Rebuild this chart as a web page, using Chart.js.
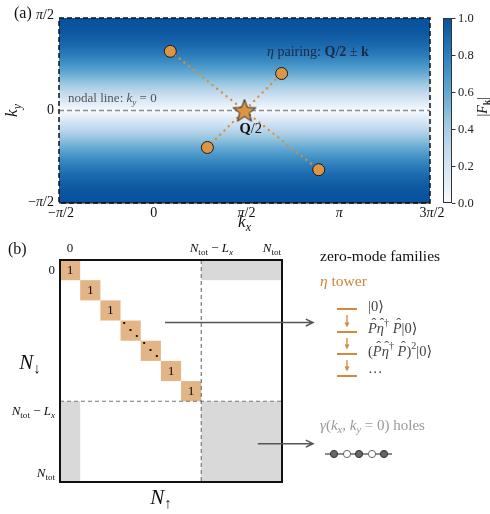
<!DOCTYPE html>
<html>
<head>
<meta charset="utf-8">
<script src="https://cdn.jsdelivr.net/npm/chart.js@4.4.0/dist/chart.umd.min.js"></script>
<style>
body{margin:0;background:#fff}
#wrap{position:relative;width:490px;height:514px}
canvas{position:absolute}
</style>
</head>
<body>
<div id="wrap">
<canvas id="mapa" width="490" height="232" style="left:0;top:0"></canvas>
<canvas id="barra" width="60" height="232" style="left:430px;top:0"></canvas>
<canvas id="matriz" width="490" height="282" style="left:0;top:232px"></canvas>
</div>
<script>
// painel (a): eixos em unidades de pi
const kxTicks = [-0.5, 0, 0.5, 1, 1.5];
const kxRotulos = ['−π/2', '0', 'π/2', 'π', '3π/2'];
const kyTicks = [-0.5, 0, 0.5];
const kyRotulos = ['−π/2', '0', 'π/2'];

// |F_k| lido por linha de ky
const kyLinhas = [-0.5,-0.45,-0.4,-0.35,-0.3,-0.25,-0.2,-0.15,-0.1,-0.05,0,0.05,0.1,0.15,0.2,0.25,0.3,0.35,0.4,0.45,0.5];
const fLinhas = [1.0,0.99,0.95,0.89,0.81,0.71,0.59,0.45,0.31,0.16,0.0,0.16,0.31,0.45,0.59,0.71,0.81,0.89,0.95,0.99,1.0];

// pares eta: Q/2 +- k
const pontosKx = [0.1, 0.9, 0.3, 0.7];
const pontosKy = [0.32, -0.32, -0.2, 0.2];
const centroKx = [0.5];
const centroKy = [0];

const barraTicks = [0, 0.2, 0.4, 0.6, 0.8, 1.0];

// painel (b): matriz em unidades de celula
const nTot = 11;
const nCorte = 7;   // N_tot - L_x
const diagCelulas = [0, 1, 2, 3, 4, 5, 6];
const diagTextos = ['1', '1', '1', '⋱', '⋱', '1', '1'];
const blocosCinza = [[7, 11, 0, 1], [0, 1, 7, 11], [7, 11, 7, 11]];
const matrizTicks = [0.5, 7.5, 10.5];

const SERIF = "'Liberation Serif','DejaVu Serif',serif";
const LARANJA = '#dc9445';

function fonte(tam, est) {
  return (est.includes('i') ? 'italic ' : '') + (est.includes('b') ? 'bold ' : '') + tam + 'px ' + SERIF;
}

// texto com partes: [texto, 'i b sub sup hat']
function texto(ctx, partes, x, y, tam, alinhar, cor) {
  ctx.save();
  ctx.fillStyle = cor || '#111';
  ctx.textBaseline = 'middle';
  ctx.textAlign = 'left';
  const itens = partes.map(p => {
    const est = (p[1] || '').split(' ');
    const sub = est.includes('sub'), sup = est.includes('sup');
    const t = (sub || sup) ? tam * 0.7 : tam;
    ctx.font = fonte(t, est);
    return {s: p[0], est, t, w: ctx.measureText(p[0]).width, dy: sub ? tam * 0.3 : sup ? -tam * 0.38 : 0};
  });
  const total = itens.reduce((a, b) => a + b.w, 0);
  let cx = alinhar === 'center' ? x - total / 2 : alinhar === 'right' ? x - total : x;
  itens.forEach(it => {
    ctx.font = fonte(it.t, it.est);
    ctx.fillText(it.s, cx, y + it.dy);
    if (it.est.includes('hat')) {
      ctx.font = fonte(it.t, []);
      const hw = ctx.measureText('ˆ').width;
      ctx.fillText('ˆ', cx + it.w / 2 - hw / 2 + it.t * 0.1, y + it.dy - it.t * 0.3);
    }
    cx += it.w;
  });
  ctx.restore();
}

function seta(ctx, x0, y0, x1, y1, cor, lw, ponta) {
  ctx.save();
  ctx.strokeStyle = cor;
  ctx.lineWidth = lw;
  ctx.beginPath();
  ctx.moveTo(x0, y0);
  ctx.lineTo(x1, y1);
  const a = Math.atan2(y1 - y0, x1 - x0);
  ctx.moveTo(x1 - ponta * Math.cos(a - 0.45), y1 - ponta * Math.sin(a - 0.45));
  ctx.lineTo(x1, y1);
  ctx.lineTo(x1 - ponta * Math.cos(a + 0.45), y1 - ponta * Math.sin(a + 0.45));
  ctx.stroke();
  ctx.restore();
}

const azuis = ['#f7fbff','#deebf7','#c6dbef','#9ecae1','#6baed6','#4292c6','#2171b5','#08519c','#08306b'];
function hex(h) { return [1, 3, 5].map(i => parseInt(h.substr(i, 2), 16)); }
function corAzul(v) {
  const t = Math.min(Math.max(v, 0), 1) * 0.875 * 8;
  const i = Math.min(Math.floor(t), 7), f = t - i;
  const a = hex(azuis[i]), b = hex(azuis[i + 1]);
  const c = a.map((q, k) => Math.round(q + (b[k] - q) * f));
  return 'rgb(' + c.join(',') + ')';
}

// estrela para Q/2
const estrela = document.createElement('canvas');
estrela.width = 28; estrela.height = 28;
const sc = estrela.getContext('2d');
sc.beginPath();
for (let k = 0; k < 10; k++) {
  const r = k % 2 ? 5 : 12;
  const a = -Math.PI / 2 + k * Math.PI / 5;
  sc.lineTo(14 + r * Math.cos(a), 15 + r * Math.sin(a));
}
sc.closePath();
sc.fillStyle = LARANJA; sc.fill();
sc.strokeStyle = '#222'; sc.lineWidth = 1; sc.stroke();

function partesPi(s) {
  if (!s.includes('π')) return [[s, '']];
  const [a, b] = s.split('π');
  return [[a, ''], ['π', 'i'], [b, '']];
}

const pluginMapa = {
  id: 'mapa',
  beforeDatasetsDraw(chart) {
    const {ctx, chartArea: ca, scales: {y}} = chart;
    const g = ctx.createLinearGradient(0, ca.top, 0, ca.bottom);
    kyLinhas.forEach((ky, i) => {
      const p = (y.getPixelForValue(ky) - ca.top) / (ca.bottom - ca.top);
      g.addColorStop(Math.min(Math.max(p, 0), 1), corAzul(fLinhas[i]));
    });
    ctx.save();
    ctx.fillStyle = g;
    ctx.fillRect(ca.left, ca.top, ca.width, ca.height);
    ctx.restore();
  },
  afterDatasetsDraw(chart) {
    const {ctx, chartArea: ca} = chart;
    ctx.save();
    ctx.strokeStyle = '#111';
    ctx.lineWidth = 1.5;
    ctx.setLineDash([5, 3]);
    ctx.strokeRect(ca.left, ca.top, ca.width, ca.height);
    ctx.setLineDash([]);
    ctx.lineWidth = 1;
    ctx.beginPath(); ctx.moveTo(ca.left, ca.bottom); ctx.lineTo(ca.right, ca.bottom); ctx.stroke();
    ctx.restore();
  },
  afterDraw(chart) {
    const {ctx, chartArea: ca, scales: {x, y}} = chart;
    kxTicks.forEach((v, i) => {
      texto(ctx, partesPi(kxRotulos[i]), x.getPixelForValue(v) + 2, ca.bottom + 10, 14, 'center', '#111');
    });
    kyTicks.forEach((v, i) => {
      texto(ctx, partesPi(kyRotulos[i]), ca.left - 5, y.getPixelForValue(v) - (v > 0 ? 3 : v < 0 ? 1 : 0), 14, 'right', '#111');
    });
    texto(ctx, [['k', 'i'], ['x', 'i sub']], x.getPixelForValue(0.5), ca.bottom + 20, 17, 'center', '#111');
    ctx.save();
    ctx.translate(13, y.getPixelForValue(0));
    ctx.rotate(-Math.PI / 2);
    texto(ctx, [['k', 'i'], ['y', 'i sub']], 0, 0, 17, 'center', '#111');
    ctx.restore();
    texto(ctx, [['(a)', '']], 14, 14, 16, 'left', '#111');
    texto(ctx, [['nodal line: ', ''], ['k', 'i'], ['y', 'i sub'], [' = 0', '']], ca.left + 9, y.getPixelForValue(0) - 12, 13, 'left', '#555');
    texto(ctx, [['η', 'i'], [' pairing: ', ''], ['Q/2', 'b'], [' ± ', ''], ['k', 'b']], 267, 52, 14, 'left', '#1a2a44');
    texto(ctx, [['Q', 'b'], ['/2', '']], x.getPixelForValue(centroKx[0]) - 5, y.getPixelForValue(centroKy[0]) + 19, 14.5, 'left', '#111');
  }
};

new Chart(document.getElementById('mapa'), {
  type: 'scatter',
  data: {
    datasets: [
      {
        data: pontosKx.map((v, i) => ({x: v, y: pontosKy[i]})),
        pointRadius: 6, pointBackgroundColor: LARANJA, pointBorderColor: '#1a1a1a', pointBorderWidth: 1,
        order: 0
      },
      {
        data: centroKx.map((v, i) => ({x: v, y: centroKy[i]})),
        pointStyle: estrela, order: 0
      },
      {
        data: [{x: -0.5, y: 0}, {x: 1.5, y: 0}], showLine: true, pointRadius: 0,
        borderColor: '#8a8a8a', borderWidth: 1.3, borderDash: [5, 3], order: 2
      },
      {
        data: [0, 1].map(i => ({x: pontosKx[i], y: pontosKy[i]})), showLine: true, pointRadius: 0,
        borderColor: '#d98e3d', borderWidth: 2.4, borderDash: [0, 6], borderCapStyle: 'round', order: 1
      },
      {
        data: [2, 3].map(i => ({x: pontosKx[i], y: pontosKy[i]})), showLine: true, pointRadius: 0,
        borderColor: '#d98e3d', borderWidth: 2.4, borderDash: [0, 6], borderCapStyle: 'round', order: 1
      }
    ]
  },
  options: {
    responsive: false, animation: false, devicePixelRatio: 1,
    layout: {padding: {left: 59, right: 60, top: 18, bottom: 29}},
    plugins: {legend: {display: false}, tooltip: {enabled: false}},
    scales: {
      x: {type: 'linear', min: -0.5, max: 1.5, display: false},
      y: {type: 'linear', min: -0.5, max: 0.5, display: false}
    }
  },
  plugins: [pluginMapa]
});

const pluginBarra = {
  id: 'barra',
  afterDraw(chart) {
    const {ctx, chartArea: ca, scales: {y}} = chart;
    const g = ctx.createLinearGradient(0, ca.bottom, 0, ca.top);
    for (let k = 0; k <= 20; k++) g.addColorStop(k / 20, corAzul(k / 20));
    ctx.save();
    ctx.fillStyle = g;
    ctx.fillRect(ca.left, ca.top, ca.width, ca.height);
    ctx.strokeStyle = '#333';
    ctx.lineWidth = 1;
    ctx.strokeRect(ca.left + 0.5, ca.top + 0.5, ca.width - 1, ca.height - 1);
    barraTicks.forEach(v => {
      const py = Math.round(y.getPixelForValue(v)) + 0.5;
      ctx.beginPath(); ctx.moveTo(ca.right, py); ctx.lineTo(ca.right + 3.5, py); ctx.stroke();
      texto(ctx, [[v.toFixed(1), '']], ca.right + 6, py, 12.5, 'left', '#222');
    });
    ctx.translate(53, y.getPixelForValue(0.52));
    ctx.rotate(-Math.PI / 2);
    texto(ctx, [['|', ''], ['F', 'i'], ['k', 'b sub'], ['|', '']], 0, 0, 14, 'center', '#222');
    ctx.restore();
  }
};

new Chart(document.getElementById('barra'), {
  type: 'scatter',
  data: {datasets: []},
  options: {
    responsive: false, animation: false, devicePixelRatio: 1,
    layout: {padding: {left: 13, right: 38, top: 18, bottom: 29}},
    plugins: {legend: {display: false}, tooltip: {enabled: false}},
    scales: {
      x: {type: 'linear', min: 0, max: 1, display: false},
      y: {type: 'linear', min: 0, max: 1, display: false}
    }
  },
  plugins: [pluginBarra]
});

const rotuloN = [
  [['0', '']],
  [['N', 'i'], ['tot', 'sub'], [' − ', ''], ['L', 'i'], ['x', 'i sub']],
  [['N', 'i'], ['tot', 'sub']]
];

const pluginMatriz = {
  id: 'matriz',
  beforeDatasetsDraw(chart) {
    const {ctx, scales: {x, y}} = chart;
    ctx.save();
    ctx.fillStyle = '#d9d9d9';
    blocosCinza.forEach(b => {
      const x0 = x.getPixelForValue(b[0]), x1 = x.getPixelForValue(b[1]);
      const y0 = y.getPixelForValue(b[2]), y1 = y.getPixelForValue(b[3]);
      ctx.fillRect(x0, y0, x1 - x0, y1 - y0);
    });
    ctx.restore();
  },
  afterDatasetsDraw(chart) {
    const {ctx, chartArea: ca, scales: {x, y}} = chart;
    diagCelulas.forEach((c, i) => {
      const ponto = diagTextos[i] === '⋱';
      texto(ctx, [[diagTextos[i], '']], x.getPixelForValue(c + 0.5), y.getPixelForValue(c + 0.5), ponto ? 19 : 13.5, 'center', '#111');
    });
    ctx.save();
    ctx.strokeStyle = '#777';
    ctx.lineWidth = 1.2;
    ctx.setLineDash([4, 3]);
    const xc = x.getPixelForValue(nCorte), yc = y.getPixelForValue(nCorte);
    ctx.beginPath();
    ctx.moveTo(xc, ca.top); ctx.lineTo(xc, ca.bottom);
    ctx.moveTo(ca.left, yc); ctx.lineTo(ca.right, yc);
    ctx.stroke();
    ctx.setLineDash([]);
    ctx.strokeStyle = '#111';
    ctx.lineWidth = 2;
    ctx.strokeRect(ca.left, ca.top, ca.width, ca.height);
    ctx.restore();
  },
  afterDraw(chart) {
    const {ctx, chartArea: ca, scales: {x, y}} = chart;
    matrizTicks.forEach((v, i) => {
      texto(ctx, rotuloN[i], x.getPixelForValue(v), ca.top - 11, 13, 'center', '#111');
      texto(ctx, rotuloN[i], ca.left - 5, y.getPixelForValue(v) + (i === 2 ? 2 : 0), 13, 'right', '#111');
    });
    texto(ctx, [['(b)', '']], 8, 18, 16, 'left', '#111');
    texto(ctx, [['N', 'i'], ['↓', 'sub']], 30, 131, 21, 'center', '#111');
    texto(ctx, [['N', 'i'], ['↑', 'sub']], x.getPixelForValue(5), 266, 21, 'center', '#111');

    // setas saindo da matriz
    seta(ctx, x.getPixelForValue(5.2), y.getPixelForValue(3.1), 313, y.getPixelForValue(3.1), '#555', 1.5, 8);
    seta(ctx, x.getPixelForValue(9.8), y.getPixelForValue(9.1), 313, y.getPixelForValue(9.1), '#555', 1.5, 8);

    texto(ctx, [['zero-mode families', '']], 320, 25, 15.5, 'left', '#111');
    texto(ctx, [['η', 'i'], [' tower', '']], 320, 50, 15.5, 'left', '#cd8434');

    const niveis = [77, 100, 122, 144];
    ctx.save();
    ctx.strokeStyle = '#d4893a';
    ctx.lineWidth = 2;
    niveis.forEach((ny, k) => {
      ctx.beginPath(); ctx.moveTo(337, ny); ctx.lineTo(357, ny); ctx.stroke();
      if (k < 3) seta(ctx, 347, ny + 6, 347, niveis[k + 1] - 6, '#d4893a', 1.3, 4);
    });
    ctx.restore();
    const cinzaEsc = '#444';
    texto(ctx, [['|0⟩', '']], 368, 75, 14.5, 'left', cinzaEsc);
    texto(ctx, [['P', 'i hat'], ['η', 'i hat'], ['†', 'sup'], [' ', ''], ['P', 'i hat'], ['|0⟩', '']], 368, 97, 14.5, 'left', cinzaEsc);
    texto(ctx, [['(', ''], ['P', 'i hat'], ['η', 'i hat'], ['†', 'sup'], [' ', ''], ['P', 'i hat'], [')', ''], ['2', 'sup'], ['|0⟩', '']], 368, 120, 14.5, 'left', cinzaEsc);
    texto(ctx, [['···', '']], 368, 141, 14.5, 'left', cinzaEsc);

    texto(ctx, [['γ', 'i'], ['(', ''], ['k', 'i'], ['x', 'i sub'], [', ', ''], ['k', 'i'], ['y', 'i sub'], [' = 0) holes', '']], 320, 194, 15, 'left', '#999');
    ctx.save();
    ctx.strokeStyle = '#666';
    ctx.lineWidth = 1.5;
    ctx.beginPath(); ctx.moveTo(325, 222); ctx.lineTo(392, 222); ctx.stroke();
    [334, 347, 359, 372, 384].forEach((cx, k) => {
      ctx.beginPath();
      ctx.arc(cx, 222, 3.6, 0, Math.PI * 2);
      ctx.fillStyle = k % 2 ? '#fff' : '#666';
      ctx.fill();
      ctx.lineWidth = 1;
      ctx.strokeStyle = k % 2 ? '#666' : '#333';
      ctx.stroke();
    });
    ctx.restore();
  }
};

new Chart(document.getElementById('matriz'), {
  type: 'scatter',
  data: {
    datasets: [{
      data: diagCelulas.map(c => ({x: c + 0.5, y: c + 0.5})),
      pointStyle: 'rect',
      pointRadius: c => {
        const s = c.chart.scales.x;
        return (s.getPixelForValue(1) - s.getPixelForValue(0)) / Math.SQRT2;
      },
      pointBackgroundColor: '#e3b586',
      pointBorderWidth: 0
    }]
  },
  options: {
    responsive: false, animation: false, devicePixelRatio: 1,
    layout: {padding: {left: 60, right: 208, top: 28, bottom: 32}},
    plugins: {legend: {display: false}, tooltip: {enabled: false}},
    scales: {
      x: {type: 'linear', min: 0, max: nTot, display: false},
      y: {type: 'linear', min: 0, max: nTot, reverse: true, display: false}
    }
  },
  plugins: [pluginMatriz]
});
</script>
</body>
</html>
